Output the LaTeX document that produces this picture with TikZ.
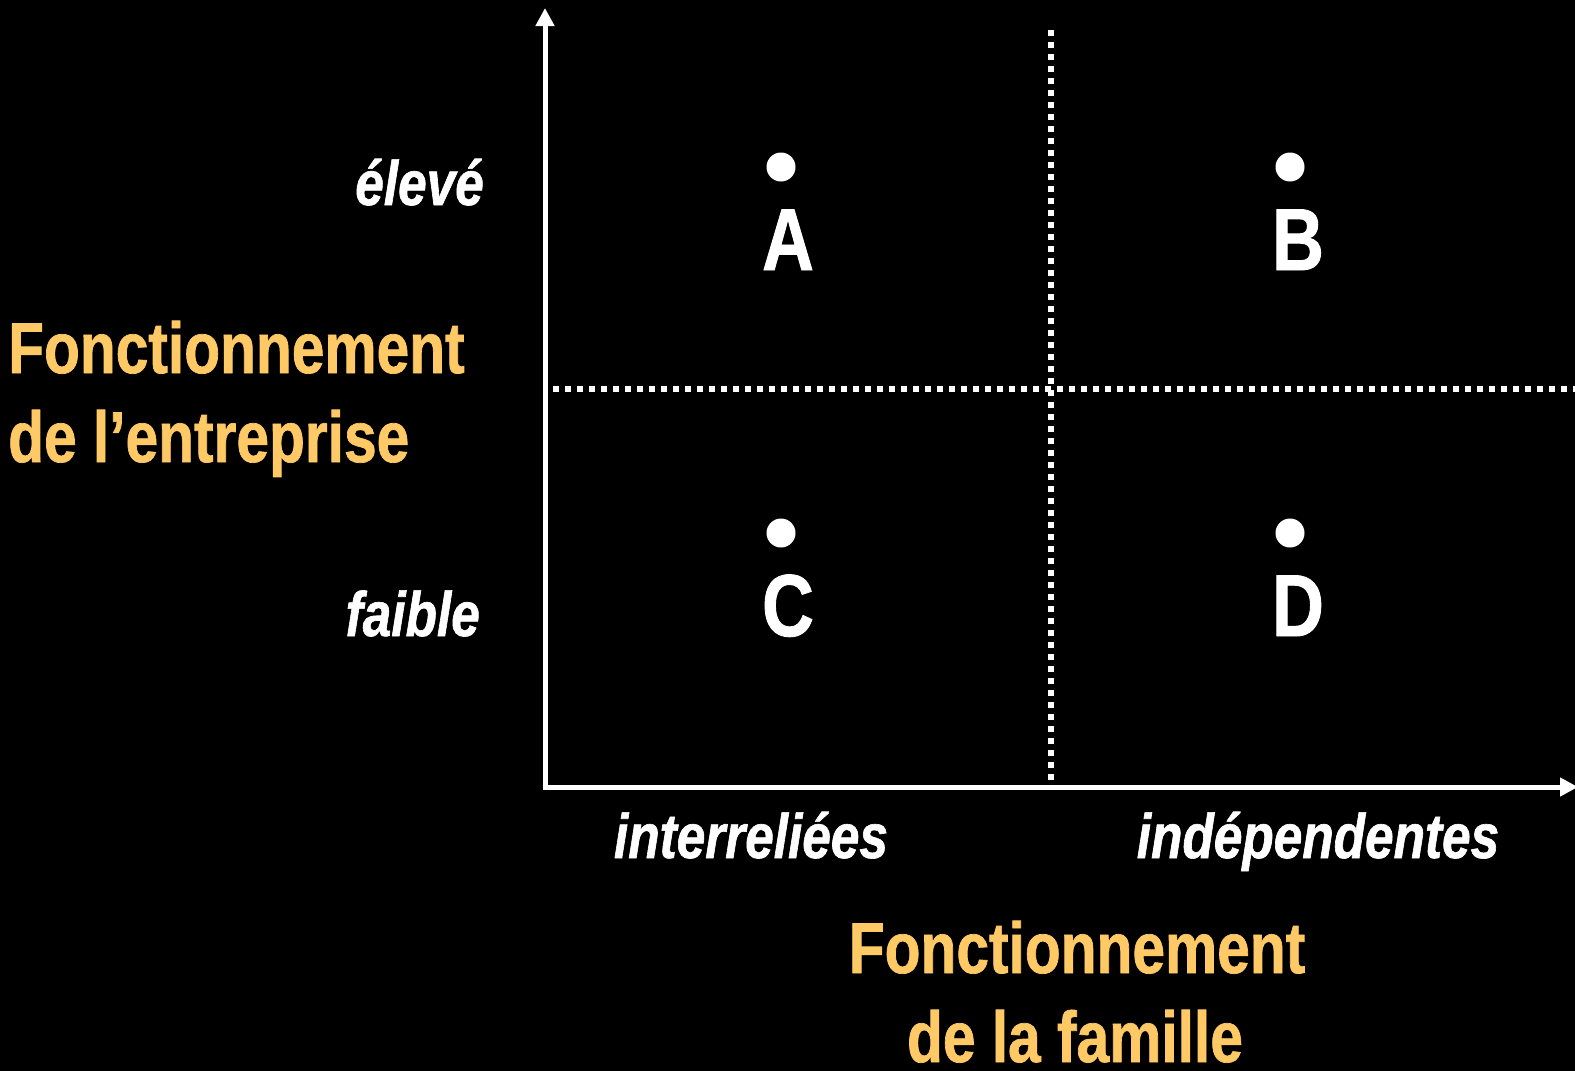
\documentclass[tikz,border=0pt]{standalone}
\usepackage{fontspec}
\setmainfont{Liberation Sans}[FakeStretch=0.815,FakeBold=1]
\usetikzlibrary{arrows.meta}
\definecolor{gold}{RGB}{255,201,101}
\tikzstyle{dS}=[circle,fill=white,minimum size = 29pt,inner sep = 0pt]
\tikzstyle{lS}=[text=white,inner sep = 0pt,font=\bfseries\fontsize{88}{88}\selectfont]
\tikzstyle{vS}=[text=white,inner sep = 0pt,font=\bfseries\itshape\fontsize{63}{63}\selectfont]
\tikzstyle{tS}=[text=gold,inner sep = 0pt,font=\bfseries\fontsize{72}{72}\selectfont]
\tikzstyle{aS}=[draw=white,line width=5pt,-{Triangle[width=18pt,length=18pt]}]
\tikzstyle{gS}=[draw=white,line width=6pt,dash pattern=on 6pt off 6pt]

\begin{document}
\begin{tikzpicture}[x=1pt,y=-1pt]
                \fill[black] (0,0) rectangle (1575,1071);
                \clip (0,0) rectangle (1575,1071);
                % quadrants
                \coordinate (o) at (545,787);
                \coordinate (yt) at (545,8);
                \coordinate (xt) at (1578,787);
                \coordinate (vt) at (1051,30);
                \coordinate (vb) at (1051,787);
                \coordinate (hl) at (553,389);
                \coordinate (hr) at (1575,389);
                \path[gS] (vt) -- (vb);
                \path[gS] (hl) -- (hr);
                \path[aS] ([yshift=2.5pt]o) -- (yt);
                \path[aS] ([xshift=-2.5pt]o) -- (xt);
                % points
                \draw (781,167) node[dS] (dA) {};
                \draw (1290,167) node[dS] (dB) {};
                \draw (781,533) node[dS] (dC) {};
                \draw (1290,533) node[dS] (dD) {};
                \draw (788,270) node[lS,anchor=base] (lA) {A};
                \draw (1298,270) node[lS,anchor=base] (lB) {B};
                \draw (788,636) node[lS,anchor=base] (lC) {C};
                \draw (1298,636) node[lS,anchor=base] (lD) {D};
                % axis values
                \draw (484,205) node[vS,anchor=base east] (vHigh) {élevé};
                \draw (480,636) node[vS,anchor=base east] (vLow) {faible};
                \draw (751,858) node[vS,anchor=base] (vInter) {interreliées};
                \draw (1318,858) node[vS,anchor=base] (vIndep) {indépendentes};
                % axis titles
                \draw (8,373) node[tS,anchor=base west] (tY1) {Fonctionnement};
                \draw (8,462) node[tS,anchor=base west] (tY2) {de l’entreprise};
                \draw (1077,973) node[tS,anchor=base] (tX1) {Fonctionnement};
                \draw (1075,1062) node[tS,anchor=base] (tX2) {de la famille};
        \end{tikzpicture}
\end{document}
